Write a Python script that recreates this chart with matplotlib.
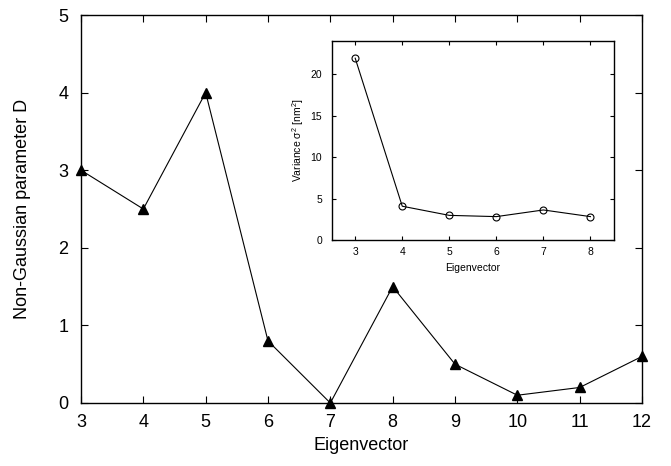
import matplotlib
matplotlib.use("Agg")
import matplotlib.pyplot as plt

plt.rcParams['font.family'] = ['Liberation Sans', 'DejaVu Sans']
plt.rcParams['mathtext.fontset'] = 'custom'
plt.rcParams['mathtext.rm'] = 'Liberation Sans'
plt.rcParams['mathtext.it'] = 'Liberation Sans'

# main data
eig = [3, 4, 5, 6, 7, 8, 9, 10, 11, 12]
D = [3.0, 2.5, 4.0, 0.8, 0.0, 1.5, 0.5, 0.1, 0.2, 0.6]

# inset data
eig_in = [3, 4, 5, 6, 7, 8]
var = [21.9, 4.1, 3.0, 2.85, 3.65, 2.85]

fig = plt.figure(figsize=(6.71, 4.66), dpi=100)
ax = fig.add_axes([0.1207, 0.1352, 0.8361, 0.8326])
ax.plot(eig, D, color='black', lw=0.8, marker='^', markersize=7.5,
        markerfacecolor='black', markeredgecolor='black', clip_on=False, zorder=3)
ax.set_xlim(3, 12)
ax.set_ylim(0, 5)
ax.set_xticks(range(3, 13))
ax.set_yticks(range(0, 6))
ax.tick_params(direction='in', top=True, right=True, labelsize=13, length=5,
               width=0.8)
ax.tick_params(axis='y', pad=9)
ax.tick_params(axis='x', pad=8)
ax.set_xlabel('Eigenvector', fontsize=13, labelpad=4)
ax.set_ylabel('Non-Gaussian parameter D', fontsize=13, labelpad=20)
for s in ax.spines.values():
    s.set_linewidth(1.0)

axi = fig.add_axes([0.4943, 0.4843, 0.4207, 0.4283])
axi.plot(eig_in, var, color='black', lw=0.8, marker='o', markersize=5,
         markerfacecolor='none', markeredgecolor='black', markeredgewidth=0.8)
axi.set_xlim(2.5, 8.5)
axi.set_ylim(0, 24)
axi.set_xticks(range(3, 9))
axi.set_yticks([0, 5, 10, 15, 20])
axi.tick_params(direction='in', top=True, right=True, labelsize=7.5, length=3,
                width=0.8)
axi.tick_params(axis='y', pad=7)
axi.tick_params(axis='x', pad=5)
axi.set_xlabel('Eigenvector', fontsize=7.5, labelpad=4)
axi.set_ylabel(r'Variance $\sigma^2$ [nm$^2$]', fontsize=7.5, labelpad=3)
for s in axi.spines.values():
    s.set_linewidth(1.0)

fig.savefig('out.png', dpi=100)
